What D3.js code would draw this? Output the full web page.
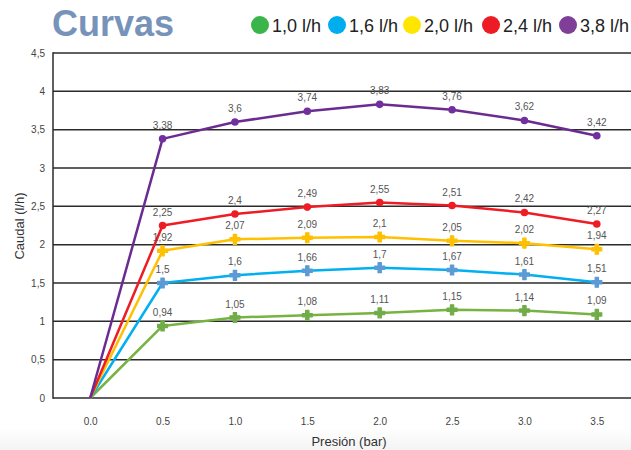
<!DOCTYPE html>
<html>
<head>
<meta charset="utf-8">
<style>
  html, body { margin: 0; padding: 0; background: #fff; }
  svg { display: block; font-family: "Liberation Sans", Arial, sans-serif; }
</style>
</head>
<body>
<svg width="631" height="450"></svg>
<script src="https://cdn.jsdelivr.net/npm/d3@7"></script>
<script>
// presion (bar) and caudal (l/h) per emitter
var presion = ["0.0", "0.5", "1.0", "1.5", "2.0", "2.5", "3.0", "3.5"];
var yTicks = [0, 0.5, 1, 1.5, 2, 2.5, 3, 3.5, 4, 4.5];
var emisores = ["1,0 l/h", "1,6 l/h", "2,0 l/h", "2,4 l/h", "3,8 l/h"];
var q10 = [0, 0.94, 1.05, 1.08, 1.11, 1.15, 1.14, 1.09];
var q16 = [0, 1.5, 1.6, 1.66, 1.7, 1.67, 1.61, 1.51];
var q20 = [0, 1.92, 2.07, 2.09, 2.1, 2.05, 2.02, 1.94];
var q24 = [0, 2.25, 2.4, 2.49, 2.55, 2.51, 2.42, 2.27];
var q38 = [0, 3.38, 3.6, 3.74, 3.83, 3.76, 3.62, 3.42];

var lineColors = ["#77b343", "#00b0f0", "#ffc000", "#ee1c25", "#6a2c91"];
var markColors = ["#70ad47", "#5b9bd5", "#ffc000", "#ee1c25", "#7030a0"];
var legColors = ["#39b54a", "#00aeef", "#ffe600", "#ed1c24", "#7f3f98"];
var markShape = [d3.symbolCross, d3.symbolCross, d3.symbolCross, d3.symbolCircle, d3.symbolCircle];

var series = [q10, q16, q20, q24, q38];

var svg = d3.select("svg");

// faint grey floor like the original
var grad = svg.append("defs").append("linearGradient")
    .attr("id", "bg").attr("x1", 0).attr("y1", 0).attr("x2", 0).attr("y2", 1);
grad.append("stop").attr("offset", "0%").attr("stop-color", "#ffffff");
grad.append("stop").attr("offset", "100%").attr("stop-color", "#f4f4f4");
svg.append("rect").attr("x", 0).attr("y", 428).attr("width", 631).attr("height", 22).attr("fill", "url(#bg)");

var x = d3.scalePoint().domain(presion).range([54, 633]).padding(0.5);
var y = d3.scaleLinear().domain([0, 4.5]).range([398, 53]);

// grid lines
svg.append("g").selectAll("line").data(yTicks).join("line")
    .attr("x1", 53).attr("x2", 631)
    .attr("y1", function(d) { return y(d); }).attr("y2", function(d) { return y(d); })
    .attr("stroke", "#2b2b2b").attr("stroke-width", 1.5);
svg.append("line").attr("x1", 53).attr("x2", 53).attr("y1", y(4.5) - 0.75).attr("y2", y(0) + 0.75)
    .attr("stroke", "#2b2b2b").attr("stroke-width", 1.5);

// y axis labels
var yAxis = svg.append("g").attr("transform", "translate(53,0)")
    .call(d3.axisLeft(y).tickValues(yTicks).tickSize(0).tickPadding(8)
        .tickFormat(function(d) { return String(d).replace(".", ","); }));
yAxis.select(".domain").remove();
yAxis.selectAll("text").attr("font-size", 10).attr("fill", "#444").attr("font-family", "Liberation Sans, Arial, sans-serif");

// x axis labels
var xAxis = svg.append("g").attr("transform", "translate(0,398)")
    .call(d3.axisBottom(x).tickSize(0).tickPadding(20));
xAxis.select(".domain").remove();
xAxis.selectAll("text").attr("font-size", 10).attr("fill", "#444").attr("font-family", "Liberation Sans, Arial, sans-serif");

svg.append("text").attr("x", 349).attr("y", 446).attr("text-anchor", "middle")
    .attr("font-size", 13).attr("fill", "#333").text("Presión (bar)");
svg.append("text").attr("transform", "translate(24,226) rotate(-90)").attr("text-anchor", "middle")
    .attr("font-size", 13).attr("fill", "#333").text("Caudal (l/h)");

// lines
var line = d3.line()
    .x(function(d, i) { return x(presion[i]); })
    .y(function(d) { return y(d); });

series.forEach(function(s, k) {
  svg.append("path").datum(s)
      .attr("fill", "none").attr("stroke", lineColors[k]).attr("stroke-width", 2.5)
      .attr("stroke-linejoin", "round").attr("d", line);
});

series.forEach(function(s, k) {
  var pts = s.map(function(v, i) { return { v: v, i: i }; }).filter(function(d) { return d.i > 0; });
  var g = svg.append("g");
  g.selectAll("path").data(pts).join("path")
      .attr("transform", function(d) { return "translate(" + x(presion[d.i]) + "," + y(d.v) + ")"; })
      .attr("d", d3.symbol().type(markShape[k]).size(k < 3 ? 55 : 45))
      .attr("fill", markColors[k])
      .attr("stroke", k < 3 ? markColors[k] : "none").attr("stroke-width", 1.2).attr("stroke-linejoin", "round");
  g.selectAll("text").data(pts).join("text")
      .attr("x", function(d) { return x(presion[d.i]); })
      .attr("y", function(d) { return y(d.v) - 10; })
      .attr("text-anchor", "middle").attr("font-size", 10).attr("fill", "#555")
      .text(function(d) { return String(d.v).replace(".", ","); });
});

// title
svg.append("text").attr("x", 52).attr("y", 36).attr("font-size", 36).attr("font-weight", "bold")
    .attr("fill", "#7793b9").text("Curvas");

// legend
var legX = [260, 337, 412, 491, 568];
emisores.forEach(function(name, k) {
  svg.append("circle").attr("cx", legX[k]).attr("cy", 25).attr("r", 9).attr("fill", legColors[k]);
  svg.append("text").attr("x", legX[k] + 12).attr("y", 32).attr("font-size", 18).attr("fill", "#222").text(name);
});
</script>
</body>
</html>
